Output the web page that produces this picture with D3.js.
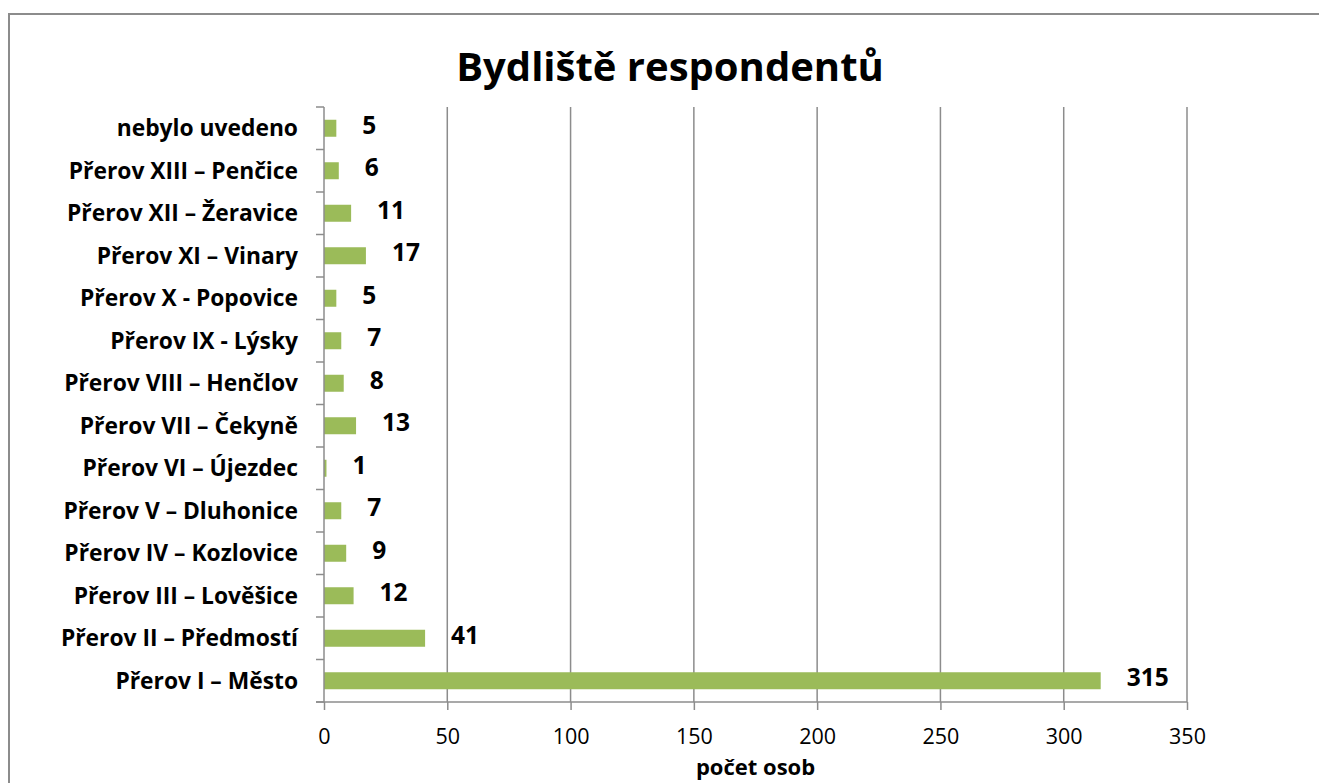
<!DOCTYPE html>
<html>
<head>
<meta charset="utf-8">
<script src="https://cdn.jsdelivr.net/npm/d3@7"></script>
<style>
  body { margin: 0; background: #fff; }
  svg { display: block; }
</style>
</head>
<body>
<svg id="chart" width="1319" height="783"></svg>
<script>
// categories from bottom to top, as in the source chart
const categories = [
  "Přerov I – Město",
  "Přerov II – Předmostí ",
  "Přerov III – Lověšice",
  "Přerov IV – Kozlovice",
  "Přerov V – Dluhonice",
  "Přerov VI – Újezdec",
  "Přerov VII – Čekyně",
  "Přerov VIII – Henčlov",
  "Přerov IX - Lýsky",
  "Přerov X - Popovice",
  "Přerov XI – Vinary",
  "Přerov XII – Žeravice",
  "Přerov XIII – Penčice",
  "nebylo uvedeno"
];
const values = [315, 41, 12, 9, 7, 1, 13, 8, 7, 5, 17, 11, 6, 5];
const xTicks = [0, 50, 100, 150, 200, 250, 300, 350];

const titleText = "Bydliště respondentů";
const xTitle = "počet osob";

const fontFamily = "'Open Sans', sans-serif";
const gridColor = "#8c8c8c";
const barColor = "#9bbb59";

const svg = d3.select("#chart");
const margin = { left: 324, right: 132, top: 107, bottom: 81 };
const width = 1319, height = 783;

// chart frame
svg.append("rect")
    .attr("x", 9).attr("y", 14)
    .attr("width", 1400).attr("height", 900)
    .attr("fill", "none")
    .attr("stroke", gridColor)
    .attr("stroke-width", 2);

const x = d3.scaleLinear()
    .domain([0, 350])
    .range([margin.left, width - margin.right]);

const y = d3.scaleBand()
    .domain(categories.slice().reverse())
    .range([margin.top, height - margin.bottom])
    .paddingInner(0.6)
    .paddingOuter(0.3);

const data = categories.map((c, i) => ({ name: c, value: values[i] }));

// vertical gridlines
svg.append("g")
  .selectAll("line")
  .data(xTicks.slice(1))
  .join("line")
    .attr("x1", d => x(d)).attr("x2", d => x(d))
    .attr("y1", margin.top).attr("y2", height - margin.bottom)
    .attr("stroke", gridColor)
    .attr("stroke-width", 1.5);

// bars
svg.append("g")
  .selectAll("rect")
  .data(data)
  .join("rect")
    .attr("x", x(0))
    .attr("y", d => y(d.name))
    .attr("width", d => x(d.value) - x(0))
    .attr("height", y.bandwidth())
    .attr("fill", barColor);

// value labels
svg.append("g")
    .style("font", `bold 24.5px ${fontFamily}`)
  .selectAll("text")
  .data(data)
  .join("text")
    .attr("x", d => x(d.value) + 26)
    .attr("y", d => y(d.name) + y.bandwidth() / 2 - 3)
    .attr("dy", "0.35em")
    .text(d => d.value);

// y axis line and band ticks
const yAxis = svg.append("g")
    .attr("stroke", gridColor)
    .attr("stroke-width", 1.5);
yAxis.append("line")
    .attr("x1", x(0)).attr("x2", x(0))
    .attr("y1", margin.top).attr("y2", height - margin.bottom);
yAxis.selectAll("line.tick")
  .data(d3.range(categories.length + 1))
  .join("line")
    .attr("class", "tick")
    .attr("x1", x(0) - 8).attr("x2", x(0))
    .attr("y1", i => margin.top + i * (height - margin.top - margin.bottom) / categories.length)
    .attr("y2", i => margin.top + i * (height - margin.top - margin.bottom) / categories.length);

// category labels
svg.append("g")
    .attr("text-anchor", "end")
    .style("font", `bold 22.8px ${fontFamily}`)
  .selectAll("text")
  .data(data)
  .join("text")
    .attr("x", x(0) - 26)
    .attr("y", d => y(d.name) + y.bandwidth() / 2)
    .attr("dy", "0.35em")
    .text(d => d.name);

// x axis
const xAxis = svg.append("g")
    .attr("transform", `translate(0,${height - margin.bottom})`)
    .call(d3.axisBottom(x).tickValues(xTicks).tickSize(8).tickPadding(19));
xAxis.select(".domain")
    .attr("d", `M${x(0) - 8},0H${x(350)}`)
    .attr("stroke", gridColor)
    .attr("stroke-width", 1.5);
xAxis.selectAll(".tick line")
    .attr("stroke", gridColor)
    .attr("stroke-width", 1.5);
xAxis.selectAll(".tick text")
    .style("font", `21.5px ${fontFamily}`)
    .attr("fill", "#000");

// axis title
svg.append("text")
    .attr("x", (x(0) + x(350)) / 2)
    .attr("y", 767)
    .attr("dy", "0.35em")
    .attr("text-anchor", "middle")
    .style("font", `bold 22px ${fontFamily}`)
    .text(xTitle);

// chart title
svg.append("text")
    .attr("x", 670)
    .attr("y", 67)
    .attr("dy", "0.35em")
    .attr("text-anchor", "middle")
    .style("font", `bold 40px ${fontFamily}`)
    .text(titleText);
</script>
</body>
</html>
